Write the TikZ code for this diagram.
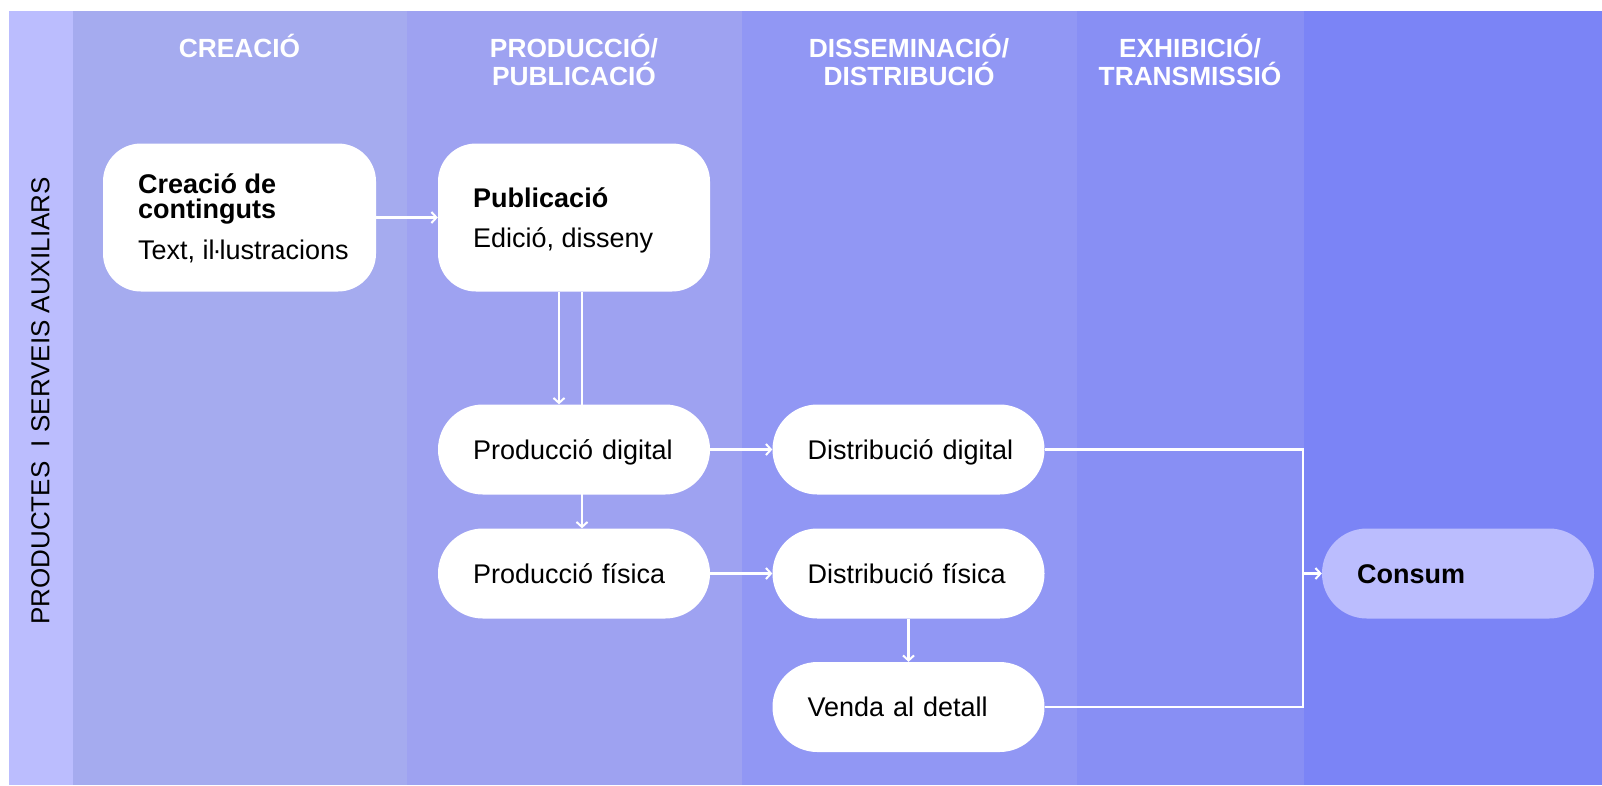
\documentclass[tikz,border=0pt]{standalone}
\usepackage{fontspec}
\setmainfont{Liberation Sans}
\usetikzlibrary{arrows.meta}
\pgfdeclarelayer{bg}
\pgfdeclarelayer{edges}
\pgfsetlayers{bg,edges,main}
\definecolor{cside}{HTML}{BBBDFE}
\definecolor{cone}{HTML}{A5ABEF}
\definecolor{ctwo}{HTML}{9EA2F1}
\definecolor{cthree}{HTML}{9197F4}
\definecolor{cfour}{HTML}{888FF4}
\definecolor{cfive}{HTML}{7B84F6}
\newcommand{\bodyfont}{\fontsize{27}{29}\selectfont}
\newcommand{\hdrfont}{\fontsize{26.3}{28}\selectfont\bfseries}
\begin{document}
\begin{tikzpicture}[x=1pt,y=-1pt,
  hdr/.style={anchor=base, text=white, font=\hdrfont, inner sep=0},
  bigbox/.style={fill=white, rounded corners=38pt, minimum width=273pt, minimum height=148pt, inner sep=0},
  pill/.style={fill=white, rounded corners=44.9pt, minimum width=272pt, minimum height=90pt, inner sep=0,
               text width=202pt, align=left, text height=19.5pt, text depth=0pt, font=\bodyfont},
  btext/.style={anchor=base west, inner sep=0, font=\bodyfont},
  line/.style={draw=white, line width=2.2pt},
  conn/.style={line, -{Straight Barb[length=5pt,width=11pt,line width=2pt]}},
]
\useasboundingbox (0,0) rectangle (1602,785);
\begin{pgfonlayer}{bg}
  \fill[white] (0,0) rectangle (1602,785);
  \fill[cside] (9,11) rectangle (72.5,785);
  \fill[cone] (72.5,11) rectangle (406.6,785);
  \fill[ctwo] (406.6,11) rectangle (741.7,785);
  \fill[cthree] (741.7,11) rectangle (1077,785);
  \fill[cfour] (1077,11) rectangle (1304,785);
  \fill[cfive] (1304,11) rectangle (1602,785);
\end{pgfonlayer}

% headers
\node[hdr] (h1) at (239.5,57) {CREACIÓ};
\node[hdr] (h2a) at (574,57) {PRODUCCIÓ/};
\node[hdr] (h2b) at (574,85) {PUBLICACIÓ};
\node[hdr] (h3a) at (909,57) {DISSEMINACIÓ/};
\node[hdr] (h3b) at (909,85) {DISTRIBUCIÓ};
\node[hdr] (h4a) at (1190,57) {EXHIBICIÓ/};
\node[hdr] (h4b) at (1190,85) {TRANSMISSIÓ};

% side label
\node[rotate=90, inner sep=0, font=\fontsize{26}{28}\selectfont] (side) at (40.5,401) {PRODUCTES\ \ I SERVEIS AUXILIARS};

% boxes
\node[bigbox] (creacio) at (239.5,217.5) {};
\node[btext, font=\bodyfont\bfseries] (creacio-t1) at (138,193) {Creació de};
\node[btext, font=\bodyfont\bfseries] (creacio-t2) at (138,218) {continguts};
\node[btext] (creacio-t3) at (138,259) {Text, il\kern-2pt·\kern-2pt lustracions};

\node[bigbox, minimum width=272pt] (publicacio) at (574,217.5) {};
\node[btext, font=\bodyfont\bfseries] (publicacio-t1) at (473,207) {Publicació};
\node[btext] (publicacio-t2) at (473,247) {Edició, disseny};

\node[pill] (pdig) at (574,449.5) {\mbox{Producció digital}};
\node[pill] (pfis) at (574,573.5) {\mbox{Producció física}};
\node[pill] (ddig) at (908.5,449.5) {\mbox{Distribució digital}};
\node[pill] (dfis) at (908.5,573.5) {\mbox{Distribució física}};
\node[pill] (venda) at (908.5,707) {\mbox{Venda al detall}};
\node[pill, fill=cside, font=\bodyfont\bfseries] (consum) at (1458,573.5) {\mbox{Consum}};

\coordinate (junc) at (1303,573.5);

\begin{pgfonlayer}{edges}
  \draw[conn] (creacio.east) -- (publicacio.west);
  \draw[conn] ([xshift=-15pt]publicacio.south) -- ([xshift=-15pt]pdig.north);
  \draw[conn] ([xshift=8pt]publicacio.south) -- ([xshift=8pt]pfis.north);
  \draw[conn] (pdig.east) -- (ddig.west);
  \draw[conn] (pfis.east) -- (dfis.west);
  \draw[conn] (dfis.south) -- (venda.north);
  \draw[line] (ddig.east) -| (junc);
  \draw[line] (venda.east) -| (junc);
  \draw[conn] (junc) -- (consum.west);
\end{pgfonlayer}
\end{tikzpicture}
\end{document}
